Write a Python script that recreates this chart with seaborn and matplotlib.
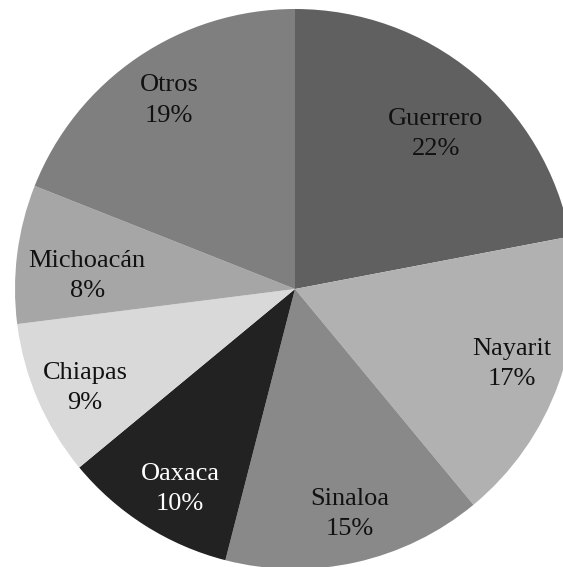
import numpy as np
import seaborn as sns
import matplotlib.pyplot as plt

# data
states = ['Guerrero', 'Nayarit', 'Sinaloa', 'Oaxaca', 'Chiapas', 'Michoacán', 'Otros']
shares = [22, 17, 15, 10, 9, 8, 19]
colors = ['#606060', '#b1b1b1', '#898989', '#222222', '#d9d9d9', '#a6a6a6', '#7f7f7f']
text_colors = ['#111111', '#111111', '#111111', '#ffffff', '#111111', '#111111', '#111111']
# label placement (radius fraction, angle nudge in degrees)
label_dist = [0.748, 0.82, 0.827, 0.824, 0.829, 0.744, 0.81]
label_nudge = [-2.7, 0.7, 1.1, 2.5, 1.8, 3.6, -0.5]

sns.set_theme(style='white')
plt.rcParams['font.family'] = ['Liberation Serif', 'DejaVu Serif']

fig = plt.figure(figsize=(5.63, 5.67), dpi=100)
ax = fig.add_axes([0, 0, 1, 1])

wedges, _ = ax.pie(shares, colors=colors, startangle=90, counterclock=False,
                   radius=1, center=(0, 0), wedgeprops=dict(linewidth=0))

for w, name, val, tc, d, nd in zip(wedges, states, shares, text_colors,
                                   label_dist, label_nudge):
    ang = np.deg2rad((w.theta1 + w.theta2) / 2 + nd)
    ax.text(d * np.cos(ang), d * np.sin(ang), f'{name}\n{val}%',
            ha='center', va='center', fontsize=19, color=tc, linespacing=1.5)

ax.set_xlim(-295 / 280, (563 - 295) / 280)
ax.set_ylim((289 - 567) / 280, 289 / 280)
ax.set_aspect('equal')
ax.axis('off')

fig.savefig('out.png', dpi=100)
